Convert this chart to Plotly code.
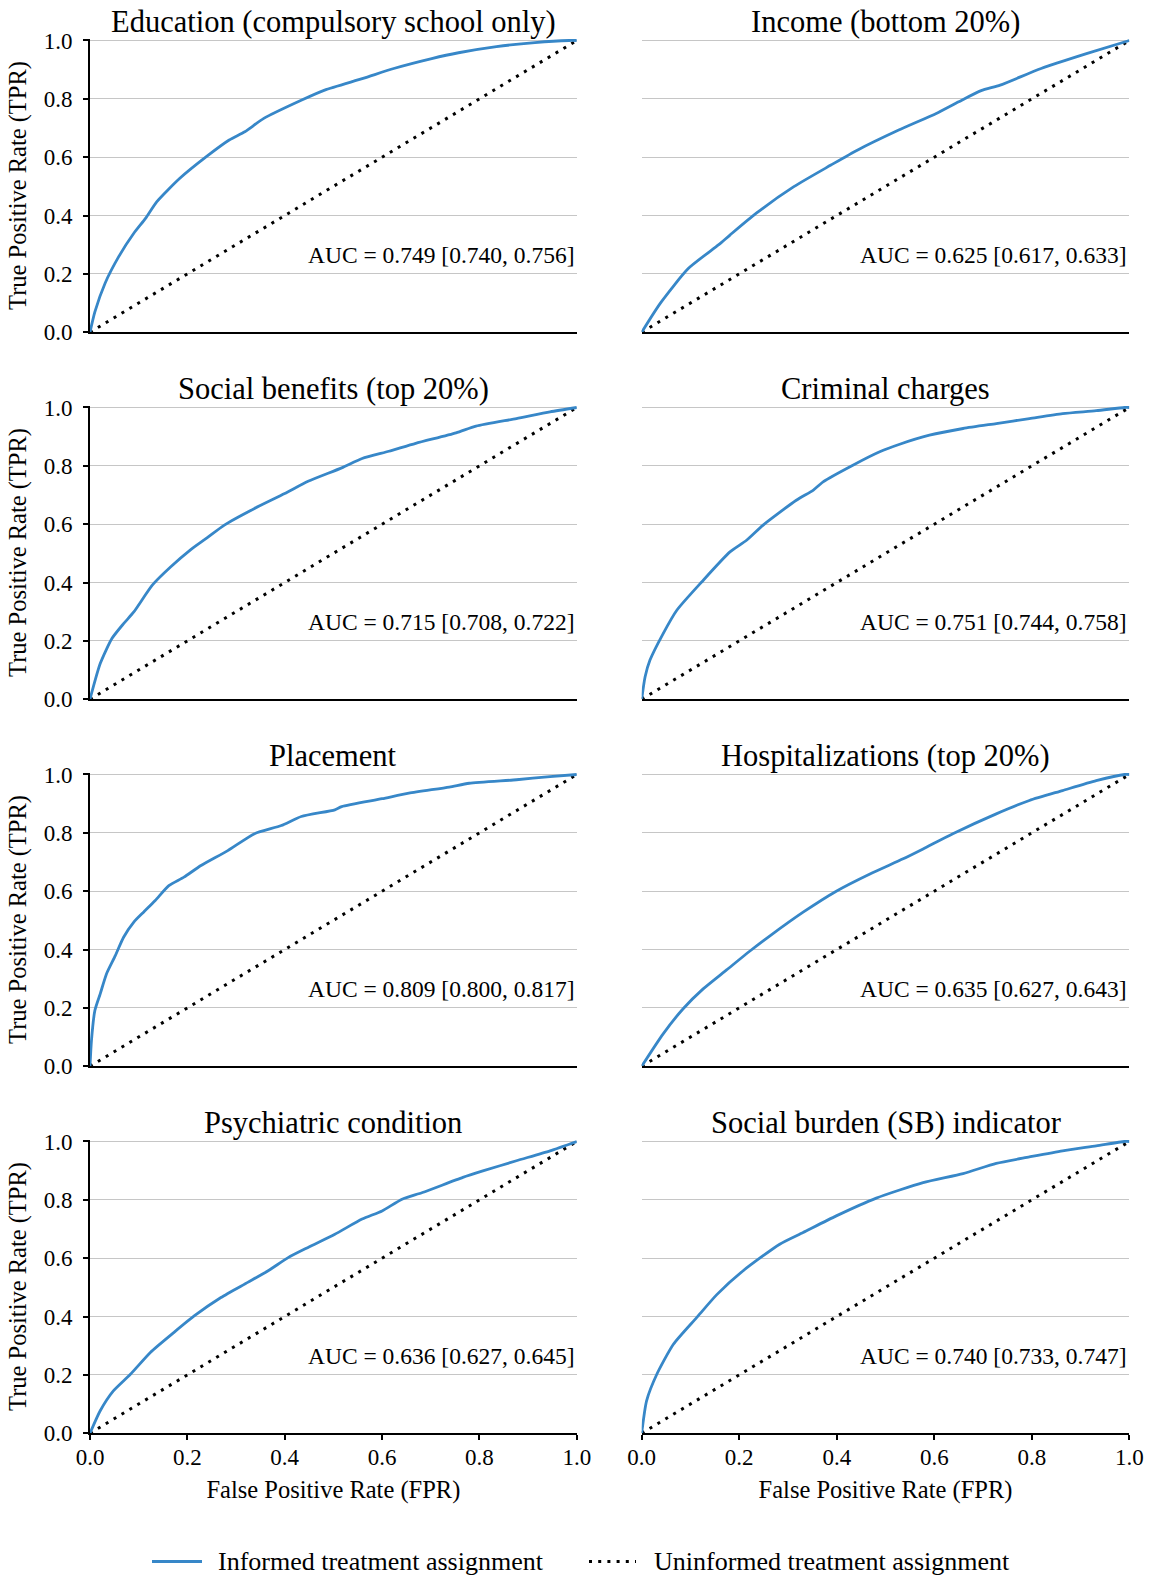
import plotly.graph_objects as go

# ---------------- data ----------------
panel_titles = [
    "Education (compulsory school only)", "Income (bottom 20%)",
    "Social benefits (top 20%)", "Criminal charges",
    "Placement", "Hospitalizations (top 20%)",
    "Psychiatric condition", "Social burden (SB) indicator",
]
auc_labels = [
    "AUC = 0.749 [0.740, 0.756]", "AUC = 0.625 [0.617, 0.633]",
    "AUC = 0.715 [0.708, 0.722]", "AUC = 0.751 [0.744, 0.758]",
    "AUC = 0.809 [0.800, 0.817]", "AUC = 0.635 [0.627, 0.643]",
    "AUC = 0.636 [0.627, 0.645]", "AUC = 0.740 [0.733, 0.747]",
]

edu_fpr = [0, 0.010, 0.031, 0.059, 0.09, 0.114, 0.137, 0.184, 0.239, 0.286, 0.318, 0.357, 0.435, 0.482, 0.561, 0.624, 0.702, 0.757, 0.835, 0.914, 0.984, 1.0]
edu_tpr = [0, 0.070, 0.168, 0.259, 0.339, 0.390, 0.447, 0.527, 0.602, 0.659, 0.687, 0.733, 0.796, 0.830, 0.870, 0.904, 0.938, 0.958, 0.979, 0.993, 1.0, 1.0]

inc_fpr = [0, 0.038, 0.096, 0.158, 0.181, 0.235, 0.312, 0.388, 0.442, 0.527, 0.604, 0.65, 0.696, 0.735, 0.819, 0.912, 1.0]
inc_tpr = [0, 0.099, 0.219, 0.300, 0.333, 0.408, 0.499, 0.573, 0.624, 0.693, 0.750, 0.790, 0.828, 0.847, 0.904, 0.955, 1.0]

soc_fpr = [0, 0.021, 0.045, 0.069, 0.09, 0.128, 0.166, 0.207, 0.241, 0.276, 0.338, 0.4, 0.448, 0.517, 0.559, 0.614, 0.669, 0.752, 0.793, 0.876, 0.945, 1.0]
soc_tpr = [0, 0.122, 0.208, 0.259, 0.299, 0.391, 0.454, 0.513, 0.554, 0.597, 0.654, 0.705, 0.747, 0.793, 0.825, 0.850, 0.877, 0.913, 0.936, 0.962, 0.985, 1.0]

crim_fpr = [0, 0.007, 0.017, 0.044, 0.072, 0.123, 0.181, 0.215, 0.249, 0.317, 0.352, 0.372, 0.433, 0.488, 0.529, 0.59, 0.659, 0.727, 0.795, 0.863, 0.932, 0.99, 1.0]
crim_tpr = [0, 0.077, 0.134, 0.225, 0.305, 0.402, 0.505, 0.545, 0.597, 0.682, 0.717, 0.745, 0.802, 0.848, 0.874, 0.905, 0.928, 0.945, 0.962, 0.979, 0.989, 1.0, 1.0]

plac_fpr = [0, 0.003, 0.01, 0.021, 0.034, 0.052, 0.069, 0.09, 0.11, 0.134, 0.162, 0.193, 0.228, 0.283, 0.338, 0.393, 0.434, 0.503, 0.517, 0.6, 0.655, 0.738, 0.779, 0.876, 0.945, 1.0]
plac_tpr = [0, 0.088, 0.191, 0.248, 0.317, 0.379, 0.442, 0.494, 0.528, 0.568, 0.619, 0.648, 0.688, 0.739, 0.797, 0.825, 0.856, 0.879, 0.890, 0.917, 0.936, 0.957, 0.970, 0.982, 0.993, 1.0]

hosp_fpr = [0, 0.044, 0.085, 0.126, 0.174, 0.222, 0.263, 0.331, 0.399, 0.468, 0.536, 0.577, 0.638, 0.727, 0.795, 0.863, 0.932, 0.99, 1.0]
hosp_tpr = [0, 0.111, 0.197, 0.265, 0.330, 0.395, 0.447, 0.528, 0.600, 0.659, 0.711, 0.745, 0.797, 0.865, 0.911, 0.945, 0.979, 1.0, 1.0]

psy_fpr = [0, 0.021, 0.048, 0.083, 0.124, 0.172, 0.214, 0.269, 0.324, 0.366, 0.407, 0.448, 0.503, 0.559, 0.6, 0.641, 0.683, 0.766, 0.807, 0.876, 0.945, 1.0]
psy_tpr = [0, 0.077, 0.145, 0.202, 0.277, 0.345, 0.402, 0.465, 0.517, 0.557, 0.602, 0.637, 0.682, 0.734, 0.762, 0.802, 0.825, 0.877, 0.899, 0.934, 0.968, 1.0]

sb_fpr = [0, 0.01, 0.031, 0.065, 0.113, 0.154, 0.208, 0.283, 0.331, 0.399, 0.481, 0.577, 0.659, 0.727, 0.795, 0.863, 0.932, 0.99, 1.0]
sb_tpr = [0, 0.111, 0.202, 0.305, 0.397, 0.475, 0.557, 0.648, 0.688, 0.745, 0.806, 0.859, 0.890, 0.925, 0.947, 0.968, 0.985, 1.0, 1.0]

chance_fpr = [0, 1]
chance_tpr = [0, 1]

tick_vals = [0.0, 0.2, 0.4, 0.6, 0.8, 1.0]
tick_text = ["0.0", "0.2", "0.4", "0.6", "0.8", "1.0"]

legend_labels = ["Informed treatment assignment", "Uninformed treatment assignment"]
x_title = "False Positive Rate (FPR)"
y_title = "True Positive Rate (TPR)"

curves = [(edu_fpr, edu_tpr), (inc_fpr, inc_tpr), (soc_fpr, soc_tpr), (crim_fpr, crim_tpr),
          (plac_fpr, plac_tpr), (hosp_fpr, hosp_tpr), (psy_fpr, psy_tpr), (sb_fpr, sb_tpr)]

# ---------------- styling / layout ----------------
W, H = 1150, 1576
ML, MR, MT, MB = 36, 4, 4, 4
AW, AH = W - ML - MR, H - MT - MB


def px2x(px):
    return (px - ML) / AW


def py2y(py):
    return 1 - (py - MT) / AH


FONT = "Liberation Serif"
BLUE = "#3787c8"
GRID = "#c6c6c6"
col_px = [(90.0, 576.8), (641.7, 1129.4)]
row_px = [(40.5 + 367 * r, 332.2 + 367 * r) for r in range(4)]
YTOP = 1.006

fig = go.Figure()
layout = dict(
    width=W, height=H, margin=dict(l=ML, r=MR, t=MT, b=MB, pad=0, autoexpand=False),
    paper_bgcolor="white", plot_bgcolor="white",
    font=dict(family=FONT, size=23, color="black"),
    showlegend=False,
)
annotations = []
shapes = []

for i, (fx, ty) in enumerate(curves):
    r, c = divmod(i, 2)
    n = i + 1
    suffix = "" if n == 1 else str(n)
    xa, ya = "x" + suffix, "y" + suffix
    x0, x1 = col_px[c]
    top, bot = row_px[r]
    top_dom = top - (YTOP - 1.0) * (bot - top)

    fig.add_trace(go.Scatter(x=chance_fpr, y=chance_tpr, mode="lines", xaxis=xa, yaxis=ya,
                             line=dict(color="black", width=3, dash="3px,6.2px"),
                             name=legend_labels[1], hoverinfo="skip"))
    fig.add_trace(go.Scatter(x=fx, y=ty, mode="lines", xaxis=xa, yaxis=ya,
                             line=dict(color=BLUE, width=2.8, shape="spline", smoothing=0.6),
                             name=legend_labels[0]))

    bottom_row = (r == 3)
    left_col = (c == 0)
    layout["xaxis" + suffix] = dict(
        domain=[px2x(x0), px2x(x1)], range=[0, 1], anchor=ya, automargin=False,
        showgrid=False, zeroline=False,
        showline=True, linecolor="black", linewidth=2,
        ticks="outside" if bottom_row else "", ticklen=5, tickwidth=1.5, tickcolor="black",
        tickvals=tick_vals, ticktext=tick_text, showticklabels=bottom_row,
        tickfont=dict(family=FONT, size=23),
        ticklabelstandoff=-3,
        title=dict(text=x_title if bottom_row else "", font=dict(family=FONT, size=24.5), standoff=12),
        fixedrange=True,
    )
    layout["yaxis" + suffix] = dict(
        domain=[py2y(bot), py2y(top_dom)], range=[0, YTOP], anchor=xa, automargin=False,
        showgrid=True, gridcolor=GRID, gridwidth=1.3, zeroline=False,
        showline=left_col, linecolor="black", linewidth=2,
        ticks="outside" if left_col else "", ticklen=5, tickwidth=1.5, tickcolor="black",
        tickvals=tick_vals, ticktext=tick_text, showticklabels=left_col,
        tickfont=dict(family=FONT, size=23),
        ticklabelstandoff=6,
        title=dict(text=y_title if left_col else "", font=dict(family=FONT, size=24.5), standoff=10),
        fixedrange=True,
    )

    # panel title
    annotations.append(dict(
        text=panel_titles[i], xref="paper", yref="paper",
        x=px2x((x0 + x1) / 2), y=py2y(22.0 + 367 * r),
        xanchor="center", yanchor="middle", showarrow=False,
        font=dict(family=FONT, size=30.5, color="black"),
    ))
    # AUC label
    annotations.append(dict(
        text=auc_labels[i], xref=xa + " domain", yref=ya,
        x=1.0, y=0.265, xanchor="right", yanchor="middle", showarrow=False,
        font=dict(family=FONT, size=23.5, color="black"),
    ))

# legend (drawn below the panels)
leg_y = py2y(1561.5)
shapes.append(dict(type="line", xref="paper", yref="paper",
                   x0=px2x(152), x1=px2x(202), y0=leg_y, y1=leg_y,
                   line=dict(color=BLUE, width=2.8)))
shapes.append(dict(type="line", xref="paper", yref="paper",
                   x0=px2x(589), x1=px2x(636), y0=leg_y, y1=leg_y,
                   line=dict(color="black", width=3, dash="3px,6.2px")))
annotations.append(dict(text=legend_labels[0], xref="paper", yref="paper",
                        x=px2x(216), y=py2y(1561.0), xanchor="left", yanchor="middle",
                        showarrow=False, font=dict(family=FONT, size=26, color="black")))
annotations.append(dict(text=legend_labels[1], xref="paper", yref="paper",
                        x=px2x(652), y=py2y(1561.0), xanchor="left", yanchor="middle",
                        showarrow=False, font=dict(family=FONT, size=26, color="black")))

layout["annotations"] = annotations
layout["shapes"] = shapes
fig.update_layout(**layout)
fig.write_html("out.html", config={"displayModeBar": False},
               post_script="document.body.style.margin='0px';")
